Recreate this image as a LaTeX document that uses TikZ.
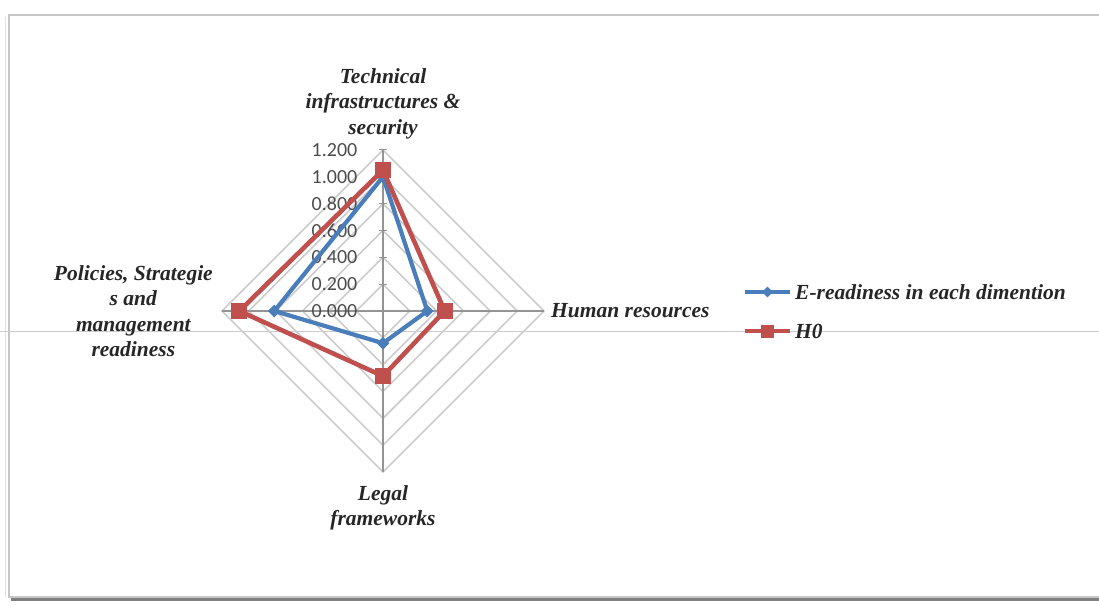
\documentclass[tikz,border=0pt]{standalone}
\usepackage{fontspec}
\setmainfont{Liberation Serif}
\setsansfont{Carlito}
\usetikzlibrary{shapes,positioning,calc}
\definecolor{serblue}{RGB}{74,126,187}
\definecolor{serred}{RGB}{192,80,77}

\begin{document}
\begin{tikzpicture}[x=1pt, y=-1pt, node distance=7pt]
\tikzstyle{axlabel} = [font=\bfseries\itshape\fontsize{21.5}{25.5}\selectfont,
  align=center, inner sep=0pt, text=black!85]
\tikzstyle{ticklabel} = [font=\sffamily\fontsize{20}{20}\selectfont,
  text=black!70, anchor=east, inner sep=0pt]
\tikzstyle{ring} = [draw=black!20, line width=1.6pt]
\tikzstyle{spoke} = [draw=black!42, line width=1.6pt]
\tikzstyle{blueline} = [draw=serblue, line width=4.2pt, line join=round]
\tikzstyle{redline} = [draw=serred, line width=4.6pt, line join=round]
\tikzstyle{bluemark} = [diamond, fill=serblue, inner sep=0pt, minimum size=13pt]
\tikzstyle{redmark} = [rectangle, fill=serred, inner sep=0pt, minimum size=16pt]

    \useasboundingbox (0,0) rectangle (1099,605);
    % frame and page line
    \draw[black!22, line width=1.5pt] (9,15) rectangle (1104,597);
    \draw[black!12, line width=1pt] (5,17) -- (5,597);
    \draw[black!50, line width=3pt] (11,599) -- (1099,599);
    \draw[black!20, line width=1pt] (0,331) -- (1099,331);

    \begin{scope}[shift={(383,311)}, x=134.2pt, y=134.2pt]
    \foreach \r in {0.2,0.4,0.6,0.8,1.0,1.2}
      \path[ring] (0,\r) -- (\r,0) -- (0,-\r) -- (-\r,0) -- cycle;
    \coordinate (vT) at (0,1.2);
    \coordinate (vR) at (1.2,0);
    \coordinate (vB) at (0,-1.2);
    \coordinate (vL) at (-1.2,0);
    \path[spoke] (vT) -- (vB);
    \path[spoke] (vL) -- (vR);
    \foreach \v/\t in {0/0.000,0.2/0.200,0.4/0.400,0.6/0.600,0.8/0.800,1.0/1.000,1.2/1.200} {
      \draw[black!42, line width=1pt] (-0.03,\v) -- (0.03,\v);
      \node[ticklabel] at (-0.19,\v) {\t};
    }

    % E-readiness
    \coordinate (eT) at (0,1.0);
    \coordinate (eR) at (0.33,0);
    \coordinate (eB) at (0,-0.24);
    \coordinate (eL) at (-0.81,0);
    \path[blueline] (eT) -- (eR) -- (eB) -- (eL) -- cycle;
    \foreach \p in {eT,eR,eB,eL} \node[bluemark] at (\p) {};

    % H0
    \coordinate (hT) at (0,1.05);
    \coordinate (hR) at (0.46,0);
    \coordinate (hB) at (0,-0.485);
    \coordinate (hL) at (-1.07,0);
    \path[redline] (hT) -- (hR) -- (hB) -- (hL) -- cycle;
    \foreach \p in {hT,hR,hB,hL} \node[redmark] at (\p) {};

    \node[axlabel, above=11pt of vT] (tech) {Technical\\infrastructures \&\\security};
    \node[axlabel, right=of vR] (human) {Human resources};
    \node[axlabel, below=13pt of vB] (legal) {Legal\\frameworks};
    \node[axlabel, left=9pt of vL] (policy) {Policies, Strategie\\s and\\management\\readiness};
    \end{scope}

    % legend
    \coordinate (lbA) at (745,292);
    \coordinate (lbB) at (790,292);
    \path[blueline, line width=3.2pt] (lbA) -- (lbB);
    \node[bluemark, minimum size=11pt] at ($(lbA)!0.5!(lbB)$) {};
    \node[axlabel, anchor=west] (lbtext) at (795,292) {E-readiness in each dimention};
    \coordinate (lrA) at (745,331);
    \coordinate (lrB) at (790,331);
    \path[redline, line width=3.2pt] (lrA) -- (lrB);
    \node[redmark, minimum size=13pt] at ($(lrA)!0.5!(lrB)$) {};
    \node[axlabel, anchor=west] (lrtext) at (795,331) {H0};
\end{tikzpicture}
\end{document}
